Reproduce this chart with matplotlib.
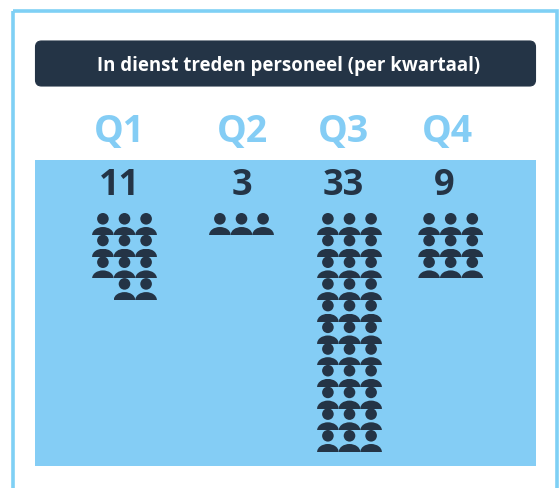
import matplotlib
matplotlib.use("Agg")
import matplotlib.pyplot as plt
from matplotlib.patches import Rectangle, FancyBboxPatch, Circle, Ellipse

quarters = ["Q1", "Q2", "Q3", "Q4"]
counts = [11, 3, 33, 9]
title = "In dienst treden personeel (per kwartaal)"

NAVY = "#243446"
BLUE = "#84cdf5"
FRAME = "#7fd0f5"
FONT = "Open Sans"

W, H = 559, 489
fig = plt.figure(figsize=(W / 100, H / 100), dpi=100, facecolor="white")
ax = fig.add_axes([0, 0, 1, 1])
ax.set_xlim(0, W)
ax.set_ylim(H, 0)
ax.axis("off")

# frame
ax.add_patch(Rectangle((12.5, 12), 544.5, 500, fill=False, ec=FRAME, lw=2.6))
# title bar
ax.add_patch(FancyBboxPatch((35.5, 42), 500, 45, boxstyle="round,pad=0,rounding_size=6",
                            fc=NAVY, ec=NAVY, lw=0.8))
ax.text(288.5, 65.5, title, color="white", fontsize=13.4, fontweight="bold",
        family=FONT, ha="center", va="center")
# panel
ax.add_patch(Rectangle((35, 160.5), 501, 306, fc=BLUE, ec="none"))

centers = [124.5, 241.5, 349.5, 450.7]
q_x = [119.5, 242.5, 343.5, 447]
n_x = [120, 242, 343, 444]
PITCH_X, PITCH_Y = 21.6, 21.7
PER_ROW = 3


def person(cx, top):
    ax.add_patch(Circle((cx, top), 5.8, fc=NAVY, ec="none"))
    body = Ellipse((cx, top + 16.2), 21.6, 16, fc=NAVY, ec="none")
    ax.add_patch(body)
    body.set_clip_path(Rectangle((cx - 11, top + 8), 22, 8.2, transform=ax.transData))


for q, n, c, qx, nx in zip(quarters, counts, centers, q_x, n_x):
    ax.text(qx, 132.5, q, color=BLUE, fontsize=27, fontweight="bold",
            family=FONT, ha="center", va="center")
    ax.text(nx, 186, str(n), color=NAVY, fontsize=26, fontweight="bold",
            family=FONT, ha="center", va="center")
    rows = (n + PER_ROW - 1) // PER_ROW
    placed = 0
    for r in range(rows):
        in_row = min(PER_ROW, n - placed)
        for k in range(in_row):
            col = PER_ROW - in_row + k
            person(c + (col - 1) * PITCH_X, 219.8 + r * PITCH_Y)
        placed += in_row

fig.savefig("out.png", dpi=100, facecolor="white")
